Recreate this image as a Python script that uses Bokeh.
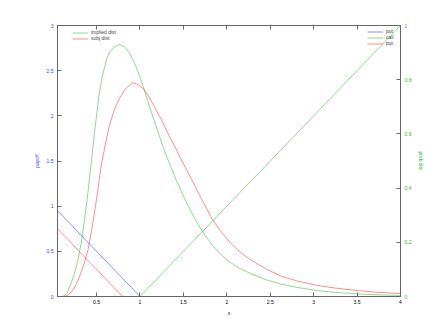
from bokeh.plotting import figure
from bokeh.models import Range1d, LinearAxis, FixedTicker, Legend, LegendItem
from bokeh.embed import file_html
from bokeh.resources import INLINE

# ---- data ----
payoff_x = [0.05, 0.8, 1.0, 4.0]
put_atm = [0.95, 0.20, 0.0, 0.0]      # blue "put"
call_atm = [0.0, 0.0, 0.0, 3.0]       # green "call"
put_otm = [0.75, 0.0, 0.0, 0.0]       # red "put"

implied_x = [0.05, 0.10, 0.13, 0.16, 0.187, 0.215, 0.245, 0.284, 0.322, 0.36, 0.399, 0.437,
             0.486, 0.532, 0.575, 0.617, 0.65, 0.70, 0.762, 0.82, 0.88, 0.94, 1.0, 1.05,
             1.12, 1.184, 1.25, 1.30, 1.356, 1.41, 1.471, 1.55, 1.644, 1.72, 1.80, 1.90,
             2.01, 2.14, 2.276, 2.45, 2.62, 2.8, 3.04, 3.25, 3.5, 3.75, 4.0]
implied_y = [0.0, 0.0, 0.002, 0.014, 0.034, 0.056, 0.084, 0.133, 0.194, 0.28, 0.379, 0.49,
             0.631, 0.754, 0.825, 0.877, 0.90, 0.92, 0.930, 0.922, 0.898, 0.86, 0.81, 0.762,
             0.69, 0.63, 0.567, 0.522, 0.477, 0.435, 0.391, 0.337, 0.28, 0.24, 0.203, 0.165,
             0.133, 0.105, 0.084, 0.062, 0.046, 0.034, 0.022, 0.015, 0.010, 0.006, 0.004]

subj_x = [0.05, 0.10, 0.15, 0.20, 0.25, 0.30, 0.35, 0.40, 0.45, 0.50, 0.55, 0.60, 0.647,
          0.70, 0.762, 0.83, 0.916, 0.98, 1.05, 1.12, 1.184, 1.25, 1.30, 1.356, 1.414,
          1.50, 1.586, 1.70, 1.836, 1.95, 2.05, 2.15, 2.276, 2.45, 2.62, 2.8, 3.04, 3.25,
          3.5, 3.75, 4.0]
subj_y = [0.0, 0.0, 0.002, 0.012, 0.035, 0.07, 0.115, 0.17, 0.255, 0.36, 0.475, 0.56, 0.63,
          0.685, 0.73, 0.765, 0.789, 0.782, 0.762, 0.728, 0.69, 0.65, 0.617, 0.58, 0.545,
          0.49, 0.437, 0.365, 0.283, 0.232, 0.195, 0.165, 0.135, 0.102, 0.076, 0.058, 0.041,
          0.031, 0.022, 0.015, 0.011]

x_ticks = [0.5, 1.0, 1.5, 2.0, 2.5, 3.0, 3.5, 4.0]
x_tick_labels = ["0.5", "1", "1.5", "2", "2.5", "3", "3.5", "4"]
y_ticks = [0.0, 0.5, 1.0, 1.5, 2.0, 2.5, 3.0]
y_tick_labels = ["0", "0.5", "1", "1.5", "2", "2.5", "3"]
y2_ticks = [0.0, 0.2, 0.4, 0.6, 0.8, 1.0]
y2_tick_labels = ["0", "0.2", "0.4", "0.6", "0.8", "1"]

RED = "#ff0000"
GREEN = "#00b000"
BLUE = "#0000ff"
GRAY = "#666666"
FONT = "Liberation Sans"
FS = "5px"

p = figure(width=435, height=324, output_backend="svg", toolbar_location=None,
           x_range=Range1d(0.05, 4.0), y_range=Range1d(0, 3),
           min_border_left=57, min_border_right=35, min_border_top=25, min_border_bottom=28,
           x_axis_label="x", y_axis_label="payoff")
p.extra_y_ranges = {"prob": Range1d(0, 1)}
p.grid.visible = False
p.outline_line_color = GRAY
p.background_fill_color = "white"
p.border_fill_color = "white"


def style_axis(ax, ticks, labels, color):
    ax.ticker = FixedTicker(ticks=ticks)
    ax.minor_tick_line_color = None
    ax.major_tick_in = 4
    ax.major_tick_out = 0
    ax.axis_line_color = GRAY
    ax.major_tick_line_color = GRAY
    ax.major_label_text_font = FONT
    ax.major_label_text_font_size = FS
    ax.major_label_text_color = color
    ax.axis_label_text_font = FONT
    ax.axis_label_text_font_size = FS
    ax.axis_label_text_font_style = "normal"
    ax.axis_label_text_color = color
    if labels is not None:
        ax.major_label_overrides = dict(zip(ticks, labels))


xa = p.xaxis[0]
style_axis(xa, x_ticks, x_tick_labels, "#000000")
xa.major_label_standoff = 3
xa.axis_label_standoff = 3

ya = p.yaxis[0]
style_axis(ya, y_ticks, y_tick_labels, "#4040ff")
ya.major_label_standoff = 4
ya.axis_label_standoff = 4

y2 = LinearAxis(y_range_name="prob", axis_label="prob dist")
style_axis(y2, y2_ticks, y2_tick_labels, "#30b030")
y2.major_label_standoff = 4
y2.axis_label_standoff = 4
p.add_layout(y2, "right")

xt = LinearAxis()
style_axis(xt, x_ticks, None, "#000000")
xt.major_label_text_color = None
xt.axis_label = None
p.add_layout(xt, "above")

lw = 1
la = 0.45
r_put1 = p.line(payoff_x, put_atm, line_color=BLUE, line_width=lw, line_alpha=la)
r_call = p.line(payoff_x, call_atm, line_color=GREEN, line_width=lw, line_alpha=la)
r_put2 = p.line(payoff_x, put_otm, line_color=RED, line_width=lw, line_alpha=la)
r_imp = p.line(implied_x, implied_y, y_range_name="prob", line_color=GREEN, line_width=lw, line_alpha=la)
r_subj = p.line(subj_x, subj_y, y_range_name="prob", line_color=RED, line_width=lw, line_alpha=la)


def make_legend(items, loc):
    lg = Legend(items=items, location=loc, orientation="vertical",
                label_text_font=FONT, label_text_font_size=FS,
                label_height=5, glyph_height=5, glyph_width=16,
                label_standoff=3, spacing=0, padding=0, margin=0,
                background_fill_alpha=0, border_line_color=None)
    return lg


lg1 = make_legend([LegendItem(label="implied dist", renderers=[r_imp]),
                   LegendItem(label="subj dist", renderers=[r_subj])], (15, 255))
lg2 = make_legend([LegendItem(label="put", renderers=[r_put1]),
                   LegendItem(label="call", renderers=[r_call]),
                   LegendItem(label="put", renderers=[r_put2])], (310, 250))
p.add_layout(lg1, "center")
p.add_layout(lg2, "center")

open("out.html", "w").write(file_html(p, INLINE))
